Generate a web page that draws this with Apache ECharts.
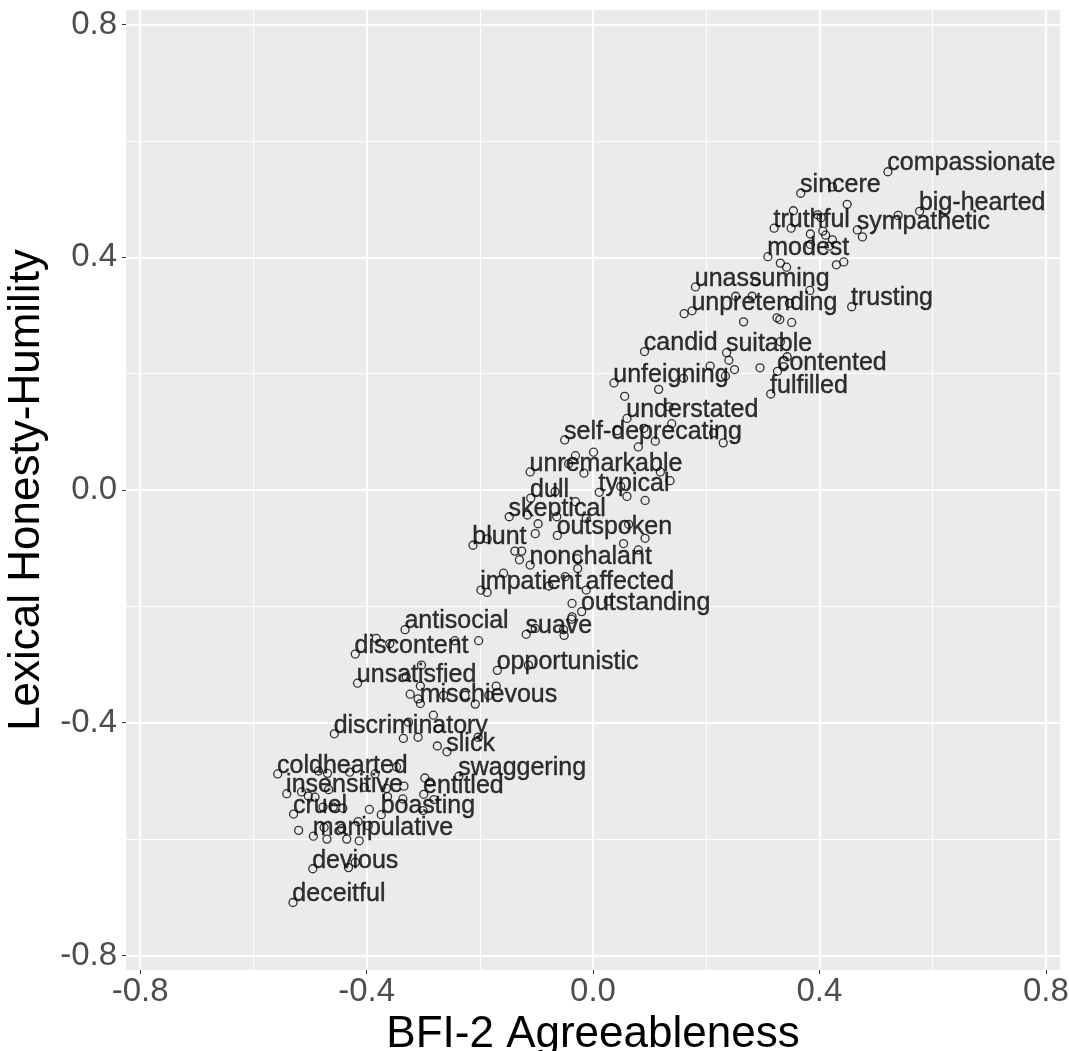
<!DOCTYPE html>
<html>
<head>
<meta charset="utf-8">
<script src="https://cdn.jsdelivr.net/npm/echarts@6/dist/echarts.min.js"></script>
<style>
html,body{margin:0;padding:0;background:#fff;}
#chart{width:1069px;height:1051px;}
</style>
</head>
<body>
<div id="chart"></div>
<script>
// Labeled adjectives
const words = ["compassionate","sincere","big-hearted","truthful","sympathetic","modest","unassuming","unpretending","trusting","candid","suitable","contented","fulfilled","unfeigning","understated","self-deprecating","unremarkable","typical","dull","skeptical","outspoken","blunt","nonchalant","impatient","affected","outstanding","antisocial","suave","discontent","opportunistic","unsatisfied","mischievous","discriminatory","slick","coldhearted","swaggering","insensitive","entitled","cruel","boasting","manipulative","devious","deceitful"];
const wordAgree = [0.521,0.367,0.577,0.320,0.467,0.309,0.181,0.175,0.457,0.091,0.236,0.326,0.314,0.037,0.060,-0.050,-0.111,0.011,-0.110,-0.148,-0.063,-0.212,-0.111,-0.198,-0.012,-0.020,-0.332,-0.118,-0.420,-0.169,-0.416,-0.305,-0.457,-0.258,-0.557,-0.237,-0.541,-0.299,-0.529,-0.374,-0.494,-0.495,-0.530];
const wordHH = [0.547,0.510,0.479,0.450,0.447,0.401,0.349,0.308,0.315,0.238,0.236,0.204,0.165,0.184,0.123,0.086,0.031,-0.004,-0.014,-0.046,-0.078,-0.095,-0.129,-0.172,-0.172,-0.209,-0.240,-0.248,-0.282,-0.310,-0.332,-0.367,-0.419,-0.450,-0.488,-0.492,-0.522,-0.523,-0.557,-0.558,-0.595,-0.651,-0.709];

// Unlabeled adjectives
const otherAgree = [0.423,0.449,0.354,0.397,0.403,0.350,0.384,0.406,0.411,0.423,0.476,0.539,0.384,0.417,0.331,0.342,0.430,0.443,0.288,0.383,0.252,0.281,0.161,0.347,0.266,0.325,0.330,0.351,0.331,0.240,0.207,0.250,0.295,0.343,0.337,0.234,0.160,0.056,0.116,
  0.134,0.139,0.043,0.090,0.110,0.080,0.213,0.230,0.001,-0.031,-0.043,-0.016,0.119,0.136,-0.067,0.049,0.060,0.092,-0.116,-0.064,-0.031,-0.097,-0.102,-0.012,0.054,0.063,0.092,0.080,-0.187,-0.138,-0.126,-0.130,-0.028,-0.027,-0.187,-0.158,-0.078,-0.049,-0.037,-0.037,0.027,
  -0.383,-0.359,-0.244,-0.202,-0.102,-0.052,-0.051,-0.038,-0.114,-0.171,-0.303,-0.330,-0.305,-0.323,-0.309,-0.264,-0.226,-0.208,-0.184,-0.282,-0.326,-0.335,-0.309,-0.273,-0.275,-0.203,
  -0.485,-0.469,-0.430,-0.385,-0.347,-0.297,-0.288,-0.515,-0.503,-0.491,-0.467,-0.404,-0.365,-0.363,-0.334,-0.336,-0.281,-0.477,-0.459,-0.442,-0.395,-0.300,-0.520,-0.475,-0.470,-0.435,-0.415,-0.397,-0.413,-0.444,-0.432,-0.420];
const otherHH = [0.521,0.491,0.480,0.473,0.468,0.450,0.440,0.445,0.438,0.430,0.435,0.472,0.422,0.419,0.390,0.383,0.387,0.392,0.358,0.343,0.333,0.333,0.303,0.321,0.289,0.296,0.293,0.288,0.255,0.223,0.213,0.207,0.210,0.229,0.212,0.196,0.192,0.161,0.173,
  0.143,0.114,0.102,0.106,0.084,0.074,0.098,0.081,0.065,0.059,0.045,0.029,0.031,0.016,-0.003,0.006,-0.011,-0.018,-0.043,-0.046,-0.020,-0.058,-0.075,-0.049,-0.092,-0.059,-0.083,-0.103,-0.084,-0.105,-0.105,-0.120,-0.118,-0.135,-0.176,-0.143,-0.165,-0.149,-0.195,-0.218,-0.191,
  -0.255,-0.264,-0.259,-0.259,-0.238,-0.240,-0.250,-0.222,-0.301,-0.337,-0.301,-0.321,-0.337,-0.351,-0.359,-0.353,-0.353,-0.368,-0.353,-0.387,-0.399,-0.427,-0.425,-0.410,-0.440,-0.425,
  -0.483,-0.487,-0.485,-0.488,-0.476,-0.495,-0.502,-0.519,-0.526,-0.528,-0.515,-0.511,-0.513,-0.527,-0.509,-0.531,-0.532,-0.545,-0.545,-0.547,-0.549,-0.551,-0.585,-0.580,-0.600,-0.600,-0.570,-0.577,-0.603,-0.582,-0.649,-0.640];

// Axis breaks
const majorTicks = [-0.8, -0.4, 0.0, 0.4, 0.8];
const minorTicks = [-0.6, -0.2, 0.2, 0.6];
const axisLimit = 0.825;

const FONT = '"Liberation Sans", Arial, Helvetica, sans-serif';
const chart = echarts.init(document.getElementById('chart'), null, {renderer: 'canvas'});

const pointStyle = {color: 'rgba(0,0,0,0)', borderColor: '#000', borderWidth: 1.3};

function majorAxis(isX) {
  return {
    type: 'value', min: -axisLimit, max: axisLimit,
    position: isX ? 'bottom' : 'left',
    name: isX ? 'BFI-2 Agreeableness' : 'Lexical Honesty-Humility',
    nameLocation: 'middle',
    nameGap: isX ? 30 : 76,
    nameTextStyle: {fontFamily: FONT, fontSize: 44, color: '#000'},
    axisLine: {show: false, onZero: false},
    axisTick: {show: true, length: 4, customValues: majorTicks, lineStyle: {color: '#333', width: 1}},
    axisLabel: {show: true, customValues: majorTicks, margin: isX ? 5 : 9, fontFamily: FONT, fontSize: 33, color: '#4D4D4D',
      formatter: v => v.toFixed(1)},
    splitLine: {show: true, lineStyle: {color: '#fff', width: 2}},
    z: 2
  };
}
function minorAxis(isX) {
  return {
    type: 'value', min: -axisLimit, max: axisLimit,
    position: isX ? 'bottom' : 'left',
    axisLine: {show: false, onZero: false},
    axisTick: {show: false, customValues: minorTicks},
    axisLabel: {show: false, customValues: minorTicks},
    splitLine: {show: true, lineStyle: {color: '#fff', width: 1}},
    z: 1
  };
}

chart.setOption({
  animation: false,
  backgroundColor: '#fff',
  grid: {left: 126, right: 9, top: 10, bottom: 81, containLabel: false, outerBoundsMode: 'none',
    show: true, backgroundColor: '#EBEBEB', borderWidth: 0},
  xAxis: [majorAxis(true), minorAxis(true)],
  yAxis: [majorAxis(false), minorAxis(false)],
  series: [
    {
      type: 'scatter', xAxisIndex: 0, yAxisIndex: 0,
      symbol: 'circle', symbolSize: 8,
      itemStyle: pointStyle,
      emphasis: {disabled: true},
      data: otherAgree.map((x, i) => [x, otherHH[i]]),
      z: 3
    },
    {
      type: 'scatter', xAxisIndex: 0, yAxisIndex: 0,
      symbol: 'circle', symbolSize: 8,
      itemStyle: pointStyle,
      emphasis: {disabled: true},
      data: words.map((w, i) => ({name: w, value: [wordAgree[i], wordHH[i]]})),
      label: {
        show: true, formatter: '{b}', position: [4, 9], align: 'left', verticalAlign: 'bottom',
        fontFamily: FONT, fontSize: 25, color: '#000', textBorderColor: '#000', textBorderWidth: 0.4
      },
      labelLayout: {hideOverlap: false},
      z: 4
    }
  ]
});
</script>
</body>
</html>
